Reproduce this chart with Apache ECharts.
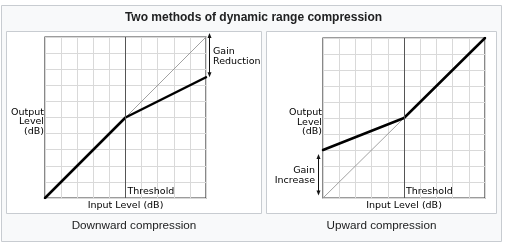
<!DOCTYPE html>
<html>
<head>
<meta charset="utf-8">
<script src="https://cdn.jsdelivr.net/npm/echarts@6/dist/echarts.min.js"></script>
<style>
html,body{margin:0;padding:0;background:#fff;}
#c{width:507px;height:250px;}
</style>
</head>
<body>
<div id="c"></div>
<script>
// ---- data ----
var titleText = 'Two methods of dynamic range compression';
var captions = ['Downward compression', 'Upward compression'];
var inputLevel = [0, 5, 10];
var downwardOutput = [0, 5, 7.5];
var upwardOutput = [3, 5, 10];
var downwardReference = [[5, 5], [10, 10]];
var upwardReference = [[0, 0], [5, 5]];
var thresholdInput = 5;
var axisMin = 0, axisMax = 10, axisStep = 1;
var xAxisLabel = 'Input Level (dB)';
var yAxisLabel = ['Output', 'Level', '(dB)'];
var thresholdLabel = 'Threshold';
var gainReductionLabel = ['Gain', 'Reduction'];
var gainIncreaseLabel = ['Gain', 'Increase'];
var gainReductionSpan = [10, 7.5];
var gainIncreaseSpan = [2.75, 0.15];

function pairs(xs, ys) { return xs.map(function (x, i) { return [x, ys[i]]; }); }

var smallFont = 'DejaVu Sans';
var gridLineColor = '#d9d9d9';
var frameColor = '#3a3a3a';

function axisPair(idx) {
  return {
    x: {
      gridIndex: idx, type: 'value', min: axisMin, max: axisMax, interval: axisStep,
      axisLine: { show: false }, axisTick: { show: false }, axisLabel: { show: false },
      splitLine: { show: true, lineStyle: { color: gridLineColor, width: 1 } }
    },
    y: {
      gridIndex: idx, type: 'value', min: axisMin, max: axisMax, interval: axisStep,
      axisLine: { show: false }, axisTick: { show: false }, axisLabel: { show: false },
      splitLine: { show: true, lineStyle: { color: gridLineColor, width: 1 } }
    }
  };
}
var a0 = axisPair(0), a1 = axisPair(1);

var chart = echarts.init(document.getElementById('c'), null, { renderer: 'canvas' });

var thresholdMark = {
  silent: true, symbol: ['none', 'none'], label: { show: false },
  lineStyle: { color: '#555', width: 1, type: 'solid' },
  data: [{ xAxis: thresholdInput }]
};

chart.setOption({
  animation: false,
  backgroundColor: '#ffffff',
  grid: [
    { left: 45, top: 37, width: 161, height: 161, show: true, borderColor: frameColor, borderWidth: 1.2, backgroundColor: 'transparent' },
    { left: 323, top: 38, width: 162, height: 160, show: true, borderColor: frameColor, borderWidth: 1.2, backgroundColor: 'transparent' }
  ],
  xAxis: [a0.x, a1.x],
  yAxis: [a0.y, a1.y],
  series: [
    { type: 'line', xAxisIndex: 0, yAxisIndex: 0, data: downwardReference, symbol: 'none',
      lineStyle: { color: '#8a8a8a', width: 0.8 }, z: 3, markLine: thresholdMark },
    { type: 'line', xAxisIndex: 0, yAxisIndex: 0, data: pairs(inputLevel, downwardOutput), symbol: 'none',
      lineStyle: { color: '#000', width: 2.5, cap: 'round', join: 'round' }, z: 4 },
    { type: 'line', xAxisIndex: 1, yAxisIndex: 1, data: upwardReference, symbol: 'none',
      lineStyle: { color: '#8a8a8a', width: 0.8 }, z: 3, markLine: thresholdMark },
    { type: 'line', xAxisIndex: 1, yAxisIndex: 1, data: pairs(inputLevel, upwardOutput), symbol: 'none',
      lineStyle: { color: '#000', width: 2.5, cap: 'round', join: 'round' }, z: 4 }
  ]
});

function px(g, pt) { return chart.convertToPixel({ gridIndex: g }, pt); }

function arrow(x, y1, y2) {
  var els = [];
  var top = Math.min(y1, y2), bot = Math.max(y1, y2);
  els.push({ type: 'line', shape: { x1: x, y1: top + 3, x2: x, y2: bot - 3 }, style: { stroke: '#111', lineWidth: 1 }, z: 20 });
  els.push({ type: 'polygon', shape: { points: [[x, top], [x - 2, top + 5], [x + 2, top + 5]] }, style: { fill: '#111' }, z: 20 });
  els.push({ type: 'polygon', shape: { points: [[x, bot], [x - 2, bot - 5], [x + 2, bot - 5]] }, style: { fill: '#111' }, z: 20 });
  return els;
}

function txt(x, y, s, align, opts) {
  opts = opts || {};
  return {
    type: 'text', x: x, y: y, z: 20,
    style: {
      text: s, fill: opts.fill || '#000', font: opts.font || ('9.5px "' + smallFont + '"'),
      textAlign: align || 'left', textVerticalAlign: 'middle'
    }
  };
}

var g = [];
// outer frame and panels
var panels = [{ x: 6.5, w: 255 }, { x: 266.5, w: 230 }];
g.push({ type: 'rect', shape: { x: 1.5, y: 5.5, width: 500, height: 236 }, style: { fill: '#f8f9fa', stroke: '#c8ccd1', lineWidth: 1 }, z: -10 });
panels.forEach(function (p) {
  g.push({ type: 'rect', shape: { x: p.x, y: 31.5, width: p.w, height: 182 }, style: { fill: '#ffffff', stroke: '#c8ccd1', lineWidth: 1 }, z: -9 });
});
// title
g.push(txt(253.5, 18, titleText, 'center', { font: 'bold 12px "Liberation Sans", Arial, sans-serif', fill: '#202122' }));

[0, 1].forEach(function (gi) {
  var bl = px(gi, [axisMin, axisMin]);
  var tr = px(gi, [axisMax, axisMax]);
  var mid = (bl[0] + tr[0]) / 2;
  var th = px(gi, [thresholdInput, axisMin]);
  var ymid = px(gi, [axisMin, (axisMin + axisMax) / 2]);
  yAxisLabel.forEach(function (s, i) {
    g.push(txt(bl[0] - 1, ymid[1] - 5 + i * 9.5, s, 'right'));
  });
  g.push(txt(th[0] + 2, bl[1] - 6, thresholdLabel, 'left'));
  g.push(txt(mid, bl[1] + 8, xAxisLabel, 'center'));
  var pc = panels[gi].x + panels[gi].w / 2;
  g.push(txt(pc, 225.5, captions[gi], 'center', { font: '11.7px "Liberation Sans", Arial, sans-serif', fill: '#202122' }));
});

// gain reduction annotation
var r1 = px(0, [axisMax, gainReductionSpan[0]]);
var r2 = px(0, [axisMax, gainReductionSpan[1]]);
g = g.concat(arrow(r1[0] + 3.5, r1[1] - 4, r2[1]));
g.push(txt(r1[0] + 7, r1[1] + 15, gainReductionLabel[0], 'left'));
g.push(txt(r1[0] + 7, r1[1] + 25, gainReductionLabel[1], 'left'));

// gain increase annotation
var u1 = px(1, [axisMin, gainIncreaseSpan[0]]);
var u2 = px(1, [axisMin, gainIncreaseSpan[1]]);
g = g.concat(arrow(u1[0] - 4.5, u1[1], u2[1]));
g.push(txt(u1[0] - 8, u1[1] + 17, gainIncreaseLabel[0], 'right'));
g.push(txt(u1[0] - 8, u1[1] + 27, gainIncreaseLabel[1], 'right'));

chart.setOption({ graphic: { elements: g } });
</script>
</body>
</html>
